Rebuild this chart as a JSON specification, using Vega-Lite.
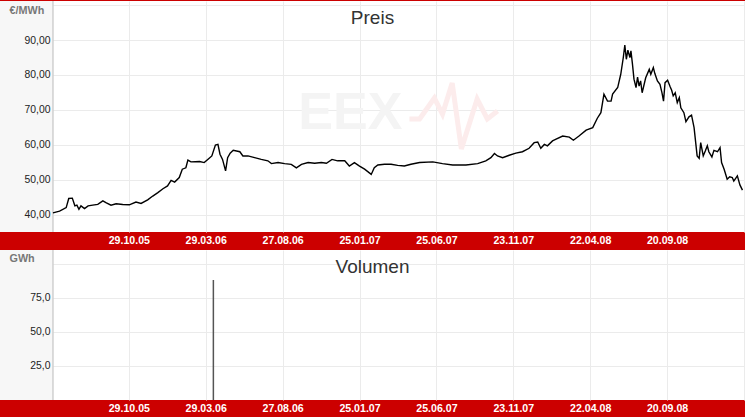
{
  "$schema": "https://vega.github.io/schema/vega-lite/v6.json",
  "background": "#cc0000",
  "padding": 0,
  "spacing": 18,
  "bounds": "flush",
  "config": {
    "font": "Liberation Sans",
    "view": {"fill": "#ffffff", "stroke": null},
    "axis": {"gridColor": "#ebebeb", "gridWidth": 1, "domain": false, "ticks": false, "tickSize": 0, "labelOverlap": false}
  },
  "datasets": {
    "price": [
      {"date": "2005-06-02", "price": 40.5}, {"date": "2005-06-15", "price": 41.0}, {"date": "2005-06-28", "price": 42.0},
      {"date": "2005-07-03", "price": 44.6}, {"date": "2005-07-10", "price": 44.7}, {"date": "2005-07-15", "price": 42.5},
      {"date": "2005-07-19", "price": 42.7}, {"date": "2005-07-23", "price": 41.5}, {"date": "2005-07-27", "price": 42.5},
      {"date": "2005-08-03", "price": 41.7}, {"date": "2005-08-10", "price": 42.5}, {"date": "2005-08-19", "price": 42.7},
      {"date": "2005-08-29", "price": 42.9}, {"date": "2005-09-08", "price": 43.9}, {"date": "2005-09-14", "price": 43.4},
      {"date": "2005-09-24", "price": 42.7}, {"date": "2005-10-04", "price": 43.1}, {"date": "2005-10-17", "price": 42.9},
      {"date": "2005-10-30", "price": 42.8}, {"date": "2005-11-12", "price": 43.6}, {"date": "2005-11-22", "price": 43.2},
      {"date": "2005-12-05", "price": 44.2}, {"date": "2005-12-15", "price": 45.3}, {"date": "2005-12-25", "price": 46.3},
      {"date": "2006-01-04", "price": 47.4}, {"date": "2006-01-13", "price": 48.2}, {"date": "2006-01-20", "price": 49.8},
      {"date": "2006-01-27", "price": 49.3}, {"date": "2006-02-05", "price": 50.6}, {"date": "2006-02-11", "price": 53.0},
      {"date": "2006-02-18", "price": 53.4}, {"date": "2006-02-22", "price": 55.6}, {"date": "2006-02-28", "price": 55.1},
      {"date": "2006-03-17", "price": 55.2}, {"date": "2006-03-26", "price": 54.9}, {"date": "2006-04-02", "price": 55.8},
      {"date": "2006-04-10", "price": 56.8}, {"date": "2006-04-17", "price": 59.9}, {"date": "2006-04-22", "price": 60.1},
      {"date": "2006-04-26", "price": 57.3}, {"date": "2006-05-01", "price": 55.8}, {"date": "2006-05-07", "price": 52.5},
      {"date": "2006-05-11", "price": 56.3}, {"date": "2006-05-16", "price": 57.6}, {"date": "2006-05-22", "price": 58.4},
      {"date": "2006-06-04", "price": 58.0}, {"date": "2006-06-10", "price": 56.8}, {"date": "2006-06-20", "price": 56.8},
      {"date": "2006-07-03", "price": 56.3}, {"date": "2006-07-16", "price": 55.8}, {"date": "2006-07-29", "price": 55.4},
      {"date": "2006-08-05", "price": 54.6}, {"date": "2006-08-18", "price": 54.9}, {"date": "2006-08-31", "price": 54.6},
      {"date": "2006-09-13", "price": 54.4}, {"date": "2006-09-23", "price": 53.4}, {"date": "2006-10-03", "price": 54.4},
      {"date": "2006-10-16", "price": 54.9}, {"date": "2006-10-29", "price": 54.7}, {"date": "2006-11-11", "price": 54.9},
      {"date": "2006-11-21", "price": 54.7}, {"date": "2006-12-02", "price": 55.8}, {"date": "2006-12-13", "price": 55.4},
      {"date": "2006-12-27", "price": 55.4}, {"date": "2007-01-05", "price": 53.9}, {"date": "2007-01-15", "price": 54.9},
      {"date": "2007-01-25", "price": 53.9}, {"date": "2007-02-04", "price": 53.0}, {"date": "2007-02-17", "price": 51.5},
      {"date": "2007-02-23", "price": 53.4}, {"date": "2007-03-02", "price": 54.2}, {"date": "2007-03-15", "price": 54.4},
      {"date": "2007-03-28", "price": 54.4}, {"date": "2007-04-10", "price": 54.1}, {"date": "2007-04-23", "price": 53.9},
      {"date": "2007-05-06", "price": 54.4}, {"date": "2007-05-23", "price": 54.9}, {"date": "2007-06-18", "price": 55.1},
      {"date": "2007-07-07", "price": 54.6}, {"date": "2007-07-27", "price": 54.2}, {"date": "2007-08-22", "price": 54.2},
      {"date": "2007-09-14", "price": 54.6}, {"date": "2007-09-30", "price": 55.4}, {"date": "2007-10-10", "price": 56.3},
      {"date": "2007-10-17", "price": 57.5}, {"date": "2007-10-23", "price": 56.8}, {"date": "2007-11-02", "price": 56.3},
      {"date": "2007-11-15", "price": 57.0}, {"date": "2007-11-28", "price": 57.6}, {"date": "2007-12-11", "price": 58.0},
      {"date": "2007-12-24", "price": 59.0}, {"date": "2008-01-03", "price": 60.6}, {"date": "2008-01-10", "price": 60.8},
      {"date": "2008-01-16", "price": 59.0}, {"date": "2008-01-23", "price": 60.1}, {"date": "2008-01-29", "price": 59.7},
      {"date": "2008-02-08", "price": 61.1}, {"date": "2008-02-15", "price": 61.6}, {"date": "2008-02-28", "price": 62.5},
      {"date": "2008-03-12", "price": 62.2}, {"date": "2008-03-20", "price": 61.3}, {"date": "2008-03-31", "price": 62.5},
      {"date": "2008-04-14", "price": 64.2}, {"date": "2008-04-27", "price": 64.9}, {"date": "2008-05-06", "price": 67.6},
      {"date": "2008-05-13", "price": 69.2}, {"date": "2008-05-19", "price": 74.5}, {"date": "2008-05-26", "price": 72.5},
      {"date": "2008-06-02", "price": 72.5}, {"date": "2008-06-05", "price": 74.5}, {"date": "2008-06-15", "price": 76.4},
      {"date": "2008-06-21", "price": 80.2}, {"date": "2008-06-26", "price": 85.0}, {"date": "2008-06-29", "price": 88.6},
      {"date": "2008-07-02", "price": 84.5}, {"date": "2008-07-05", "price": 87.1}, {"date": "2008-07-09", "price": 85.0},
      {"date": "2008-07-11", "price": 86.9}, {"date": "2008-07-14", "price": 83.1}, {"date": "2008-07-17", "price": 78.8},
      {"date": "2008-07-21", "price": 76.4}, {"date": "2008-07-24", "price": 79.4}, {"date": "2008-07-27", "price": 76.8},
      {"date": "2008-07-30", "price": 78.3}, {"date": "2008-08-02", "price": 74.9}, {"date": "2008-08-09", "price": 79.2},
      {"date": "2008-08-16", "price": 81.6}, {"date": "2008-08-19", "price": 80.2}, {"date": "2008-08-24", "price": 82.1},
      {"date": "2008-08-27", "price": 80.4}, {"date": "2008-09-01", "price": 78.3}, {"date": "2008-09-06", "price": 77.3},
      {"date": "2008-09-10", "price": 74.9}, {"date": "2008-09-13", "price": 72.5}, {"date": "2008-09-16", "price": 77.8},
      {"date": "2008-09-21", "price": 78.5}, {"date": "2008-09-26", "price": 76.6}, {"date": "2008-09-29", "price": 75.6},
      {"date": "2008-10-02", "price": 74.0}, {"date": "2008-10-06", "price": 74.9}, {"date": "2008-10-10", "price": 72.1},
      {"date": "2008-10-14", "price": 73.5}, {"date": "2008-10-17", "price": 70.6}, {"date": "2008-10-23", "price": 69.2},
      {"date": "2008-10-27", "price": 66.6}, {"date": "2008-11-02", "price": 68.0}, {"date": "2008-11-07", "price": 68.5},
      {"date": "2008-11-12", "price": 64.9}, {"date": "2008-11-18", "price": 56.8}, {"date": "2008-11-22", "price": 56.1},
      {"date": "2008-11-25", "price": 60.6}, {"date": "2008-11-30", "price": 56.8}, {"date": "2008-12-04", "price": 58.2},
      {"date": "2008-12-08", "price": 59.7}, {"date": "2008-12-11", "price": 58.0}, {"date": "2008-12-17", "price": 56.5},
      {"date": "2008-12-21", "price": 58.4}, {"date": "2008-12-28", "price": 58.0}, {"date": "2009-01-02", "price": 59.2},
      {"date": "2009-01-05", "price": 54.9}, {"date": "2009-01-10", "price": 53.0}, {"date": "2009-01-16", "price": 50.1},
      {"date": "2009-01-21", "price": 50.8}, {"date": "2009-01-26", "price": 50.6}, {"date": "2009-01-29", "price": 49.6},
      {"date": "2009-02-05", "price": 51.1}, {"date": "2009-02-10", "price": 48.5}, {"date": "2009-02-15", "price": 47.0}
    ],
    "logo": [
      {"date": "2007-05-03", "v": 67.4}, {"date": "2007-05-23", "v": 67.4}, {"date": "2007-06-21", "v": 73.4},
      {"date": "2007-07-07", "v": 68.8}, {"date": "2007-07-26", "v": 77.7}, {"date": "2007-08-13", "v": 58.8},
      {"date": "2007-09-13", "v": 73.1}, {"date": "2007-10-03", "v": 67.4}, {"date": "2007-10-23", "v": 69.7}
    ],
    "volume": [
      {"date": "2006-04-13", "gwh": 88}
    ]
  },
  "vconcat": [
    {
      "width": 745,
      "height": 231,
      "title": {"text": "Preis", "frame": "group", "anchor": "middle", "offset": -43, "baseline": "alphabetic", "fontSize": 19, "fontWeight": "normal", "color": "#333333", "font": "Liberation Sans"},
      "resolve": {"axis": {"y": "independent"}},
      "layer": [
        {
          "data": {"values": [{}]},
          "mark": {"type": "rect", "color": "#f7f7f7"},
          "encoding": {
            "x": {"datum": {"year": 2005, "month": 2, "date": 18, "utc": true}, "type": "temporal", "axis": {"title": null}},
            "x2": {"datum": {"year": 2005, "month": 6, "date": 2, "utc": true}},
            "y": {
              "datum": 35, "type": "quantitative",
              "axis": {
                "orient": "left", "zindex": 1, "grid": false,
                "values": [40, 50, 60, 70, 80, 90, 100],
                "labelExpr": "datum.value >= 100 ? '' : replace(format(datum.value, '.2f'), '.', ',')",
                "labelAlign": "right", "labelPadding": -50, "labelFontSize": 10.4, "labelColor": "#222222",
                "title": "€/MWh", "titleAngle": 0, "titleX": 9, "titleY": 9, "titleAlign": "left", "titleBaseline": "middle",
                "titleFontSize": 10.8, "titleFontWeight": "bold", "titleColor": "#777777",
                "minExtent": 0, "maxExtent": 0
              }
            },
            "y2": {"datum": 101.2}
          }
        },
        {
          "data": {"name": "logo"},
          "mark": {"type": "line", "color": "#fcecec", "strokeWidth": 5, "strokeJoin": "miter"},
          "encoding": {
            "x": {"field": "date", "type": "temporal", "axis": {"title": null}},
            "y": {"field": "v", "type": "quantitative", "axis": null}
          }
        },
        {
          "data": {"values": [{"label": "EEX"}]},
          "mark": {"type": "text", "fontSize": 52, "fontWeight": "bold", "color": "#f4f4f4", "align": "center", "baseline": "middle"},
          "encoding": {
            "x": {"datum": {"year": 2007, "month": 1, "date": 7, "utc": true}, "type": "temporal", "axis": {"title": null}},
            "y": {"datum": 69, "type": "quantitative", "axis": null},
            "text": {"field": "label"}
          }
        },
        {
          "data": {"values": [{}]},
          "mark": {"type": "rule", "color": "#cfcfcf", "strokeWidth": 1.5},
          "encoding": {
            "x": {"datum": {"year": 2005, "month": 6, "date": 2, "utc": true}, "type": "temporal", "axis": {"title": null}}
          }
        },
        {
          "data": {"name": "price"},
          "mark": {"type": "line", "color": "#000000", "strokeWidth": 1.4},
          "encoding": {
            "x": {
              "field": "date", "type": "temporal",
              "scale": {"domain": [{"year": 2005, "month": 2, "date": 18, "utc": true}, {"year": 2009, "month": 2, "date": 20, "utc": true}]},
              "axis": {
                "title": null,
                "values": [
                  {"year": 2005, "month": 10, "date": 29, "utc": true},
                  {"year": 2006, "month": 3, "date": 29, "utc": true},
                  {"year": 2006, "month": 8, "date": 27, "utc": true},
                  {"year": 2007, "month": 1, "date": 25, "utc": true},
                  {"year": 2007, "month": 6, "date": 25, "utc": true},
                  {"year": 2007, "month": 11, "date": 23, "utc": true},
                  {"year": 2008, "month": 4, "date": 22, "utc": true},
                  {"year": 2008, "month": 9, "date": 20, "utc": true},
                  {"year": 2009, "month": 2, "date": 18, "utc": true}
                ],
                "labelExpr": "datum.value > utc(2009, 0, 1) ? '' : utcFormat(datum.value, '%d.%m.%y')",
                "labelColor": "#ffffff", "labelFontWeight": "bold", "labelFontSize": 10.6,
                "labelBaseline": "alphabetic", "labelPadding": 11.5, "labelFlush": false, "labelBound": false,
                "grid": true, "minExtent": 18, "maxExtent": 18
              }
            },
            "y": {
              "field": "price", "type": "quantitative",
              "scale": {"domain": [35, 101.2], "nice": false, "zero": false},
              "axis": {
                "orient": "left", "zindex": 0, "grid": true, "labels": false, "title": null,
                "values": [40, 50, 60, 70, 80, 90, 100],
                "minExtent": 0, "maxExtent": 0
              }
            }
          }
        }
      ]
    },
    {
      "width": 745,
      "height": 150,
      "title": {"text": "Volumen", "frame": "group", "anchor": "middle", "offset": -43, "baseline": "alphabetic", "fontSize": 19, "fontWeight": "normal", "color": "#333333", "font": "Liberation Sans"},
      "resolve": {"axis": {"y": "independent"}},
      "layer": [
        {
          "data": {"values": [{}]},
          "mark": {"type": "rect", "color": "#f7f7f7"},
          "encoding": {
            "x": {"datum": {"year": 2005, "month": 2, "date": 18, "utc": true}, "type": "temporal", "axis": {"title": null}},
            "x2": {"datum": {"year": 2005, "month": 6, "date": 2, "utc": true}},
            "y": {
              "datum": 0, "type": "quantitative",
              "axis": {
                "orient": "left", "zindex": 1, "grid": false,
                "values": [25, 50, 75, 100],
                "labelExpr": "datum.value >= 100 ? '' : replace(format(datum.value, '.1f'), '.', ',')",
                "labelAlign": "right", "labelPadding": -50, "labelFontSize": 10.4, "labelColor": "#222222",
                "title": "GWh", "titleAngle": 0, "titleX": 9, "titleY": 8.5, "titleAlign": "left", "titleBaseline": "middle",
                "titleFontSize": 10.8, "titleFontWeight": "bold", "titleColor": "#777777",
                "minExtent": 0, "maxExtent": 0
              }
            },
            "y2": {"datum": 110}
          }
        },
        {
          "data": {"values": [{}]},
          "mark": {"type": "rule", "color": "#cfcfcf", "strokeWidth": 1.5},
          "encoding": {
            "x": {"datum": {"year": 2005, "month": 6, "date": 2, "utc": true}, "type": "temporal", "axis": {"title": null}}
          }
        },
        {
          "data": {"name": "volume"},
          "mark": {"type": "rule", "color": "#555555", "strokeWidth": 1.5},
          "encoding": {
            "x": {
              "field": "date", "type": "temporal",
              "scale": {"domain": [{"year": 2005, "month": 2, "date": 18, "utc": true}, {"year": 2009, "month": 2, "date": 20, "utc": true}]},
              "axis": {
                "title": null,
                "values": [
                  {"year": 2005, "month": 10, "date": 29, "utc": true},
                  {"year": 2006, "month": 3, "date": 29, "utc": true},
                  {"year": 2006, "month": 8, "date": 27, "utc": true},
                  {"year": 2007, "month": 1, "date": 25, "utc": true},
                  {"year": 2007, "month": 6, "date": 25, "utc": true},
                  {"year": 2007, "month": 11, "date": 23, "utc": true},
                  {"year": 2008, "month": 4, "date": 22, "utc": true},
                  {"year": 2008, "month": 9, "date": 20, "utc": true},
                  {"year": 2009, "month": 2, "date": 18, "utc": true}
                ],
                "labelExpr": "datum.value > utc(2009, 0, 1) ? '' : utcFormat(datum.value, '%d.%m.%y')",
                "labelColor": "#ffffff", "labelFontWeight": "bold", "labelFontSize": 10.6,
                "labelBaseline": "alphabetic", "labelPadding": 11.5, "labelFlush": false, "labelBound": false,
                "grid": true, "minExtent": 18, "maxExtent": 18
              }
            },
            "y": {
              "field": "gwh", "type": "quantitative",
              "scale": {"domain": [0, 110], "nice": false},
              "axis": {
                "orient": "left", "zindex": 0, "grid": true, "labels": false, "title": null,
                "values": [25, 50, 75, 100],
                "minExtent": 0, "maxExtent": 0
              }
            },
            "y2": {"datum": 0}
          }
        }
      ]
    }
  ]
}
